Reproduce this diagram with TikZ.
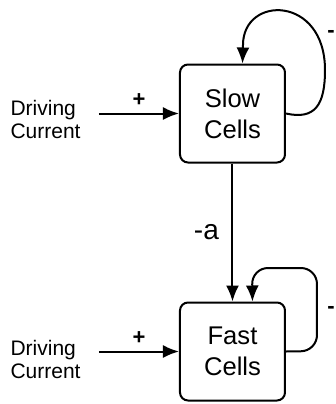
\documentclass[tikz,border=0pt]{standalone}
\usepackage{fontspec}
\setmainfont{Liberation Sans}
\usetikzlibrary{arrows.meta}
\usetikzlibrary{positioning}
\tikzset{>={Latex[length=8pt,width=6.5pt]}}
\tikzstyle{feed}=[black,line width=1pt]

\begin{document}
\begin{tikzpicture}[
    x=0.5pt,y=-0.5pt,
    cellbox/.style={draw,line width=1pt,rounded corners=4pt,minimum width=52.5pt,
                    minimum height=49pt,align=center,font=\fontsize{12.8}{15.5}\selectfont},
    drivetext/.style={align=left,inner sep=0pt,font=\fontsize{10.5}{11.5}\selectfont},
    sign/.style={font=\bfseries\fontsize{11}{12}\selectfont,inner sep=1pt},
  ]
  
  \def\gap{69pt}   % distance between cell boxes
  \def\din{49pt}   % distance from text to box
  
  \useasboundingbox (0,0) rectangle (336,404);
  
  % CELLS
  \node[cellbox] (slow) at (232.5,113.5) {Slow\\Cells};
  \node[cellbox,below=\gap of slow] (fast) {Fast\\Cells};
  
  % DRIVING CURRENTS
  \node[drivetext,left=\din of slow,yshift=-3pt] (drive1) {Driving\\Current};
  \node[drivetext,left=\din of fast,yshift=-4pt] (drive2) {Driving\\Current};
  \coordinate (in1) at ([xshift=9pt]drive1.east |- slow.west);
  \coordinate (in2) at ([xshift=9pt]drive2.east |- fast.west);
  \draw[->,line width=1pt] (in1) -- (slow.west)
    node[sign,midway,above=2pt] (plus1) {+};
  \draw[->,line width=1pt] (in2) -- (fast.west)
    node[sign,midway,above=2pt] (plus2) {+};
  
  % COUPLING
  \draw[->,line width=1pt] (slow) -- (fast)
    node[midway,left=3pt,font=\fontsize{14}{15}\selectfont] (coup) {-a};
  
  % SELF FEEDBACK
  \draw[feed,->] (slow.east) .. controls (315,120) and (325,105) .. (325,70)
    .. controls (325,-5) and (243,-5) .. (243,45) -- ([xshift=5pt]slow.north);
  \node[sign,anchor=west,inner sep=0pt] (neg1) at (327,34) {-};
  \draw[feed,->,rounded corners=8pt] (fast.east) -- (317,351) -- (317,268)
    -- (252,268) -- ([xshift=10pt]fast.north);
  \node[sign,anchor=west,inner sep=0pt] (neg2) at (327,310) {-};

\end{tikzpicture}
\end{document}
